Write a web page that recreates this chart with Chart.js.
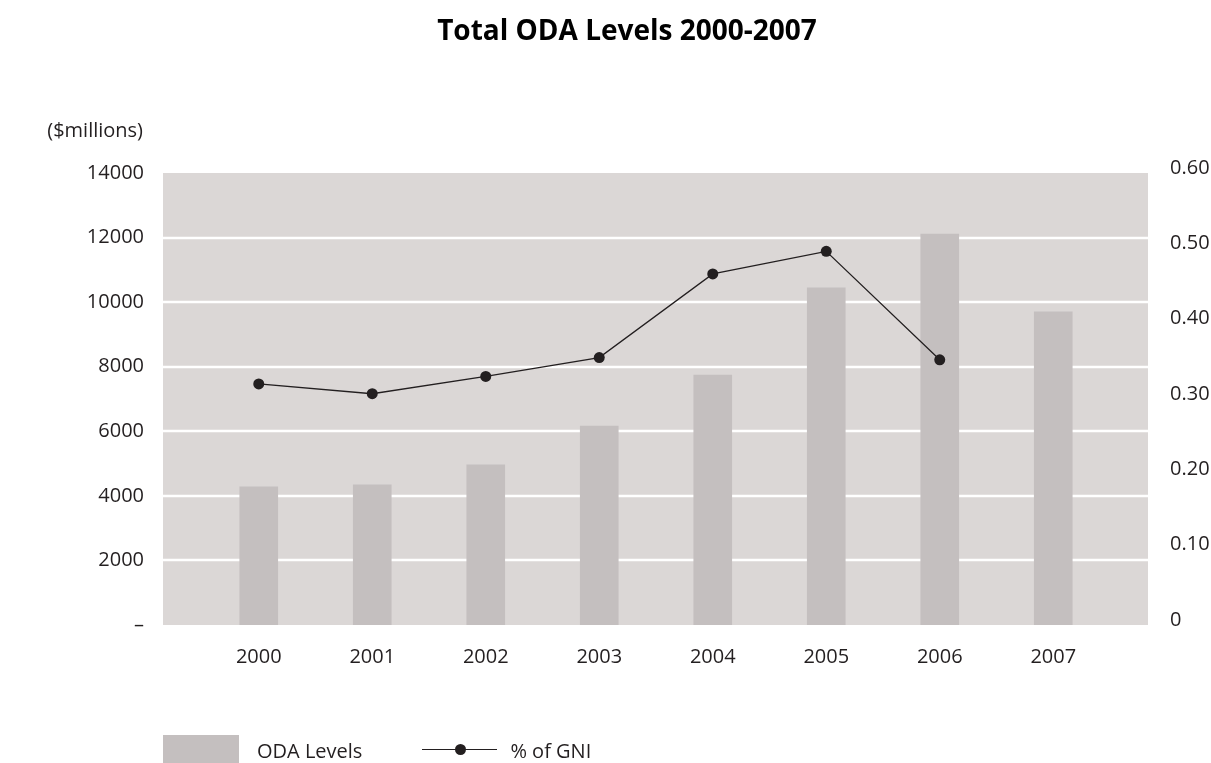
<!DOCTYPE html>
<html>
<head>
<meta charset="utf-8">
<title>Total ODA Levels 2000-2007</title>
<script src="https://cdn.jsdelivr.net/npm/chart.js@4.4.1/dist/chart.umd.min.js"></script>
<style>
    html, body { margin: 0; padding: 0; background: #ffffff; }
    #wrap {
        position: relative;
        width: 1211px;
        height: 763px;
        overflow: hidden;
        font-family: 'Open Sans', sans-serif;
        color: #231f20;
    }
    #chart { display: block; }
    #legend {
        position: absolute;
        left: 163px;
        top: 735px;
        display: flex;
        align-items: center;
        font-size: 20px;
        white-space: nowrap;
    }
    #legend .swatch { width: 76px; height: 30px; background: #c4bfbf; }
    #legend .bar-text { margin-left: 18px; }
    #legend .line-key { position: relative; width: 75px; height: 30px; margin-left: 60px; }
    #legend .line-key::before {
        content: ''; position: absolute; left: 0; right: 0; top: 14px;
        border-top: 1.3px solid #231f20;
    }
    #legend .line-key::after {
        content: ''; position: absolute; left: 33px; top: 9px;
        width: 11px; height: 11px; border-radius: 50%; background: #231f20;
    }
    #legend .line-text { margin-left: 13px; }
</style>
</head>
<body>
<div id="wrap">
    <canvas id="chart" width="1211" height="763"></canvas>
    <div id="legend"></div>
</div>
<script>
// Years on the x axis
const years = ['2000', '2001', '2002', '2003', '2004', '2005', '2006', '2007'];

// Total ODA in $ millions (bars, left axis)
const odaLevels = [4280, 4340, 4960, 6160, 7740, 10440, 12110, 9700];

// ODA as % of GNI (line, right axis) - no figure for 2007
const gniShare = [0.32, 0.307, 0.33, 0.355, 0.466, 0.496, 0.352, null];

const seriesNames = ['ODA Levels', '% of GNI'];
const chartTitle = 'Total ODA Levels 2000-2007';

const INK = '#231f20';
const BAR_GREY = '#c4bfbf';
const PLOT_BG = '#dbd7d6';
const FONT = "'Open Sans', sans-serif";

// The grey panel reaches a bit past the first and last category
const PANEL_EXTEND_LEFT = 39;
const PANEL_EXTEND_RIGHT = 38;

// Grey panel, white gridlines, title and the unit caption over the left axis
const plotPanel = {
    id: 'plotPanel',
    beforeDatasetsDraw(chart) {
        const { ctx, chartArea, scales } = chart;
        const left = chartArea.left - PANEL_EXTEND_LEFT;
        const right = chartArea.right + PANEL_EXTEND_RIGHT;
        ctx.save();
        ctx.fillStyle = PLOT_BG;
        ctx.fillRect(left, chartArea.top, right - left, chartArea.bottom - chartArea.top);
        ctx.strokeStyle = '#ffffff';
        ctx.lineWidth = 2.5;
        scales.y.ticks.forEach(t => {
            if (t.value <= scales.y.min || t.value >= scales.y.max) return;
            const y = Math.round(scales.y.getPixelForValue(t.value));
            ctx.beginPath();
            ctx.moveTo(left, y);
            ctx.lineTo(right, y);
            ctx.stroke();
        });
        ctx.restore();
    },
    afterDraw(chart) {
        const { ctx, chartArea } = chart;
        ctx.save();
        ctx.textBaseline = 'middle';

        // title sits a little left of the panel centre
        ctx.fillStyle = '#000000';
        ctx.font = 'bold 28px ' + FONT;
        ctx.textAlign = 'center';
        ctx.fillText(chartTitle, 627, 32);

        ctx.fillStyle = INK;
        ctx.font = '20px ' + FONT;
        ctx.textAlign = 'right';
        ctx.fillText('($millions)', chartArea.left - 59, chartArea.top - 42);
        ctx.restore();
    }
};

const ctx = document.getElementById('chart');
const chart = new Chart(ctx, {
    type: 'bar',
    data: {
        labels: years,
        datasets: [
            {
                type: 'line',
                label: seriesNames[1],
                data: gniShare,
                yAxisID: 'y1',
                order: 0,
                borderColor: INK,
                borderWidth: 1.3,
                backgroundColor: INK,
                pointRadius: 5.5,
                pointHoverRadius: 5.5,
                pointBackgroundColor: INK,
                pointBorderWidth: 0,
                tension: 0,
                spanGaps: false
            },
            {
                type: 'bar',
                label: seriesNames[0],
                data: odaLevels,
                yAxisID: 'y',
                order: 1,
                backgroundColor: BAR_GREY,
                borderWidth: 0,
                barThickness: 38
            }
        ]
    },
    options: {
        responsive: false,
        animation: false,
        layout: { padding: { top: 173 } },
        plugins: {
            legend: { display: false },
            tooltip: { enabled: false },
            title: { display: false }
        },
        scales: {
            x: {
                grid: { display: false },
                border: { display: false },
                ticks: {
                    color: INK,
                    font: { family: FONT, size: 20 },
                    padding: 12
                },
                afterFit(scale) { scale.height = 138; }
            },
            y: {
                position: 'left',
                min: 0,
                max: 14000,
                grid: { display: false },
                border: { display: false },
                ticks: {
                    stepSize: 2000,
                    color: INK,
                    font: { family: FONT, size: 20 },
                    padding: 50,
                    callback: v => (v === 0 ? '–' : String(v))
                },
                afterFit(scale) { scale.width = 202; }
            },
            y1: {
                position: 'right',
                min: 0,
                max: 0.6,
                grid: { display: false },
                border: { display: false },
                ticks: {
                    stepSize: 0.1,
                    color: INK,
                    font: { family: FONT, size: 20 },
                    padding: 52,
                    labelOffset: -5,
                    callback: v => (v === 0 ? '0' : Number(v).toFixed(2))
                },
                afterFit(scale) { scale.width = 101; }
            }
        }
    },
    plugins: [plotPanel]
});

// Legend under the chart, built from the dataset names
const legend = document.getElementById('legend');
legend.innerHTML =
    '<span class="swatch"></span><span class="bar-text">' + seriesNames[0] + '</span>' +
    '<span class="line-key"></span><span class="line-text">' + seriesNames[1] + '</span>';
</script>
</body>
</html>
